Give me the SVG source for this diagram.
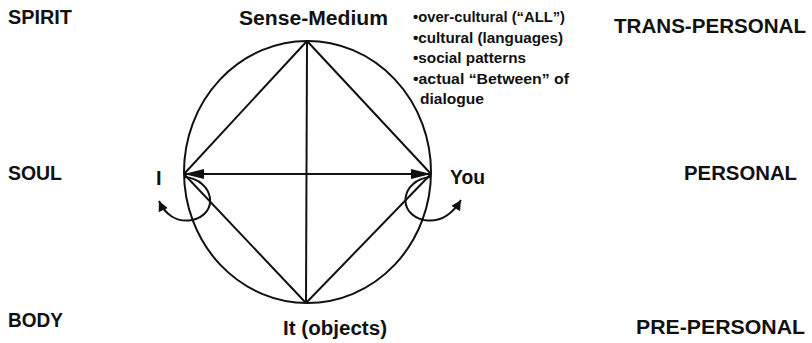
<svg xmlns="http://www.w3.org/2000/svg" width="812" height="343" viewBox="0 0 812 343">
<defs>
<style>
text{font-family:"Liberation Sans",Arial,sans-serif;font-weight:bold;fill:#111}
.lv{font-size:21px}
.nd{font-size:20px}
.bl{font-size:15px}
.ln{stroke:#111;stroke-width:2;fill:none}
</style>
<marker id="ah" viewBox="0 0 10 10" refX="10" refY="5" markerWidth="11" markerHeight="10" markerUnits="userSpaceOnUse" orient="auto-start-reverse">
<path d="M0,0 L10,5 L0,10 z" fill="#111"/>
</marker>
<marker id="big" viewBox="0 0 20 10" refX="20" refY="5" markerWidth="20" markerHeight="10" markerUnits="userSpaceOnUse" orient="auto-start-reverse">
<path d="M0,0 L20,5 L0,10 z" fill="#111"/>
</marker>
</defs>
<rect width="812" height="343" fill="#fff"/>
<g id="levels">
<text class="lv" x="8" y="24" textLength="64" lengthAdjust="spacingAndGlyphs">SPIRIT</text>
<text class="lv" x="8" y="180" textLength="54" lengthAdjust="spacingAndGlyphs">SOUL</text>
<text class="lv" x="8" y="327" textLength="55" lengthAdjust="spacingAndGlyphs">BODY</text>
<text class="lv" x="614" y="33" textLength="192" lengthAdjust="spacingAndGlyphs">TRANS-PERSONAL</text>
<text class="lv" x="684" y="180" textLength="113" lengthAdjust="spacingAndGlyphs">PERSONAL</text>
<text class="lv" x="636" y="334" textLength="169" lengthAdjust="spacingAndGlyphs">PRE-PERSONAL</text>
</g>
<g id="circle"><ellipse class="ln" cx="307.5" cy="172" rx="123.5" ry="131"/></g>
<g id="connectors">
<line class="ln" x1="307" y1="41" x2="184" y2="174"/>
<line class="ln" x1="307" y1="41" x2="431" y2="174"/>
<line class="ln" x1="306" y1="303" x2="184" y2="174"/>
<line class="ln" x1="306" y1="303" x2="431" y2="174"/>
<line class="ln" x1="307" y1="41" x2="306" y2="303"/>
<line class="ln" x1="184" y1="174" x2="431" y2="174" marker-start="url(#big)" marker-end="url(#big)"/>
<path class="ln" d="M185,177 C214,180 220,214 192,220 C176,223 165,214 159,201" marker-end="url(#ah)"/>
<path class="ln" d="M430,177 C401,180 396,214 424,220 C441,223 453,213 461,200" marker-end="url(#ah)"/>
</g>
<g id="sense-medium"><text class="nd" x="239" y="25" textLength="149" lengthAdjust="spacingAndGlyphs">Sense-Medium</text></g>
<g id="it"><text class="nd" x="283" y="335" textLength="104" lengthAdjust="spacingAndGlyphs">It (objects)</text></g>
<g id="i"><text class="nd" x="156" y="185">I</text></g>
<g id="you"><text class="nd" x="450" y="184" textLength="35" lengthAdjust="spacingAndGlyphs">You</text></g>
<g id="notes">
<text class="bl" x="413" y="22" textLength="152" lengthAdjust="spacingAndGlyphs">•over-cultural (“ALL”)</text>
<text class="bl" x="413" y="43" textLength="150" lengthAdjust="spacingAndGlyphs">•cultural (languages)</text>
<text class="bl" x="413" y="63" textLength="113" lengthAdjust="spacingAndGlyphs">•social patterns</text>
<text class="bl" x="413" y="84" textLength="156" lengthAdjust="spacingAndGlyphs">•actual “Between” of</text>
<text class="bl" x="420" y="104" textLength="64" lengthAdjust="spacingAndGlyphs">dialogue</text>
</g>
</svg>
